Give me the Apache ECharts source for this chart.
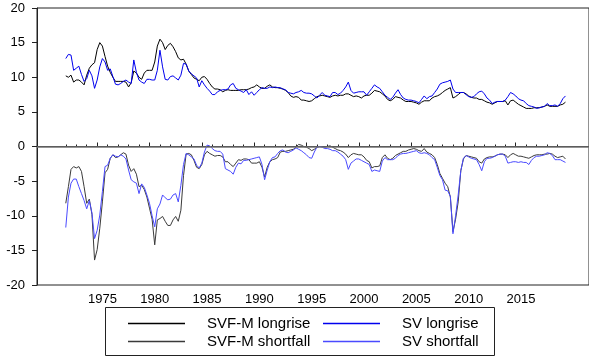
<!DOCTYPE html>
<html>
<head>
<meta charset="utf-8">
<script src="https://cdn.jsdelivr.net/npm/echarts@6/dist/echarts.min.js"></script>
<style>
  html, body { margin: 0; padding: 0; background: #fff; }
  #chart { width: 589px; height: 357px; }
</style>
</head>
<body>
<div id="chart"></div>
<script>
// Quarterly observations, 1972Q1 .. 2019Q4
const firstYear = 1972;
const lastYear = 2019;

// Axis runs a little wider than the sample
const axisStart = [1969, 2];
const axisEnd = [2022, 1];

const yTicks = [-20, -15, -10, -5, 0, 5, 10, 15, 20];
const labelYears = [1975, 1980, 1985, 1990, 1995, 2000, 2005, 2010, 2015];

const svfmLongrise = [
  10.2, 10.0, 10.3, 9.3, 9.6, 9.6, 9.3, 8.9, 10.3, 11.3,
  11.8, 12.1, 14.0, 15.0, 14.5, 13.0, 11.6, 10.7, 10.0, 9.4,
  9.4, 9.4, 9.4, 9.3, 8.6, 9.2, 10.9, 10.6, 10.0, 9.7,
  10.6, 11.0, 11.0, 11.0, 12.2, 14.5, 15.5, 15.0, 14.0, 14.6,
  14.9, 14.4, 13.7, 12.8, 12.5, 12.6, 11.9, 10.9, 10.4, 9.9,
  9.7, 9.5, 10.0, 10.1, 9.7, 9.1, 8.6, 8.3, 8.3, 8.2,
  7.9, 8.1, 8.2, 8.1, 8.1, 8.1, 8.1, 8.2, 8.2, 8.2,
  8.3, 8.5, 8.6, 8.9, 8.6, 8.4, 8.4, 8.7, 8.9, 8.6,
  8.5, 8.5, 8.4, 8.3, 8.1, 7.8, 7.3, 7.1, 7.2, 7.1,
  6.7, 6.7, 6.6, 6.5, 6.6, 6.9, 7.2, 7.3, 7.4, 7.3,
  7.2, 7.1, 7.3, 7.4, 7.3, 7.4, 7.4, 7.6, 7.6, 7.4,
  7.2, 7.3, 7.2, 7.0, 7.3, 7.4, 7.4, 7.7, 8.1, 8.0,
  7.9, 7.6, 7.3, 6.8, 6.6, 6.8, 7.2, 7.1, 7.0, 6.7,
  6.5, 6.5, 6.5, 6.4, 6.3, 6.1, 6.4, 6.6, 6.6, 6.6,
  7.0, 7.2, 7.3, 7.5, 7.8, 8.1, 8.3, 8.5, 7.0, 7.2,
  7.5, 7.8, 7.8, 7.6, 7.3, 7.1, 7.0, 7.0, 6.8, 6.8,
  6.6, 6.4, 6.3, 6.1, 6.3, 6.5, 6.5, 6.5, 6.6, 6.0,
  6.6, 6.7, 6.4, 6.1, 5.9, 5.7, 5.5, 5.5, 5.5, 5.6,
  5.6, 5.6, 5.7, 5.8, 6.0, 5.8, 5.8, 5.8, 5.8, 6.0,
  6.1, 6.4
];

const svLongrise = [
  12.7, 13.3, 13.2, 11.0, 11.3, 11.6, 10.4, 9.4, 9.8, 11.0,
  10.2, 8.4, 9.6, 11.5, 12.7, 12.2, 11.0, 11.2, 10.1, 9.0,
  8.9, 9.1, 9.4, 9.6, 9.3, 9.1, 12.5, 10.7, 9.6, 9.3,
  9.1, 9.7, 9.7, 9.6, 9.6, 11.0, 13.9, 11.5, 9.7, 9.6,
  10.1, 10.2, 9.9, 9.6, 10.3, 12.0, 11.9, 10.9, 10.5, 10.2,
  9.9, 8.6, 9.5, 8.9, 8.4, 8.0, 7.5, 7.5, 7.9, 8.1,
  8.2, 8.2, 8.3, 8.9, 9.1, 8.4, 8.2, 8.0, 7.8, 8.2,
  7.5, 7.9, 7.4, 7.8, 8.2, 8.5, 8.4, 8.4, 8.6, 8.5,
  8.6, 8.5, 8.5, 8.3, 8.2, 7.8, 7.7, 7.6, 7.8, 7.9,
  8.1, 7.8, 7.7, 7.7, 7.6, 7.3, 7.0, 7.4, 7.8, 7.4,
  7.3, 7.2, 7.8, 7.8, 7.5, 7.7, 8.1, 8.6, 9.3, 8.1,
  7.7, 7.8, 7.9, 7.9, 7.9, 7.4, 7.9, 8.4, 8.9, 8.6,
  8.4, 7.9, 7.4, 7.1, 6.8, 7.1, 7.7, 8.2, 7.5, 7.0,
  6.8, 6.7, 6.7, 6.6, 6.5, 6.3, 6.8, 7.3, 6.9, 7.2,
  7.3, 7.8, 8.3, 9.0, 9.2, 9.3, 9.4, 9.6, 8.3, 7.8,
  7.8, 7.8, 7.8, 7.5, 7.2, 7.1, 7.2, 7.6, 7.9, 8.0,
  7.6, 7.0, 6.7, 6.2, 6.4, 6.5, 6.5, 6.5, 6.7, 7.2,
  7.8, 7.6, 7.3, 6.9, 6.7, 6.6, 6.2, 5.9, 5.8, 5.7,
  5.5, 5.6, 5.7, 5.8, 6.2, 5.9, 5.9, 6.0, 5.8, 6.2,
  6.9, 7.3
];

const svfmShortfall = [
  -8.2, -5.8, -3.3, -2.9, -3.1, -2.9, -3.6, -5.8, -8.2, -7.6,
  -9.8, -16.4, -14.9, -11.8, -8.0, -3.8, -3.3, -1.7, -1.2, -1.6,
  -1.5, -1.2, -0.9, -1.1, -2.7, -3.6, -3.2, -4.0, -5.8, -5.6,
  -6.2, -7.3, -8.9, -10.5, -14.2, -10.6, -10.4, -10.1, -10.8, -11.4,
  -11.4, -10.6, -10.1, -10.8, -9.2, -4.2, -1.1, -1.0, -1.2, -2.0,
  -3.0, -3.2, -2.6, -1.2, -0.7, -1.0, -1.2, -1.4, -1.3, -1.3,
  -1.5, -2.2, -2.2, -2.6, -2.9, -2.4, -1.9, -2.0, -1.8, -1.8,
  -1.9, -2.4, -2.4, -2.4, -2.2, -3.0, -4.4, -3.0, -2.2, -1.9,
  -1.8, -1.6, -0.8, -0.7, -0.7, -0.6, -0.5, -0.4, -0.1, 0.3,
  0.2, 0.0, -0.1, -0.3, -0.6, -0.4, -0.1, 0.0, 0.0, -0.1,
  0.0, 0.1, -0.1, -0.3, -0.5, -0.6, -0.8, -1.1, -1.6, -1.2,
  -1.0, -1.1, -1.2, -1.2, -1.5, -2.0, -2.2, -3.1, -2.9, -2.9,
  -2.8, -1.6, -1.2, -1.7, -1.9, -1.7, -1.3, -1.1, -0.9, -0.7,
  -0.7, -0.5, -0.4, -0.3, -0.4, -0.6, -0.7, -0.3, -0.8, -1.0,
  -1.2, -1.6, -2.6, -3.9, -4.6, -5.3, -5.8, -7.3, -12.3, -10.5,
  -8.0, -3.5, -1.8, -1.3, -1.4, -1.5, -1.6, -1.7, -2.2, -2.4,
  -1.8, -1.6, -1.5, -1.5, -1.4, -1.2, -1.1, -1.1, -1.2, -1.6,
  -1.2, -1.0, -1.2, -1.4, -1.4, -1.5, -1.6, -1.7, -1.5, -1.3,
  -1.2, -1.2, -1.2, -1.1, -1.1, -1.0, -1.1, -1.4, -1.6, -1.5,
  -1.4, -1.8
];

const svShortfall = [
  -11.7, -7.3, -5.3, -4.7, -4.7, -5.8, -6.8, -7.8, -9.0, -7.8,
  -9.6, -13.3, -12.1, -9.9, -6.5, -2.9, -2.7, -1.7, -1.2, -1.4,
  -1.5, -1.2, -1.4, -1.8, -3.4, -4.8, -5.1, -5.3, -6.8, -5.4,
  -5.9, -7.0, -8.2, -10.0, -11.6, -9.0, -8.3, -7.0, -7.4, -7.7,
  -7.6, -7.0, -6.8, -8.0, -5.6, -2.6, -1.0, -1.2, -1.5, -1.8,
  -2.7, -3.1, -2.4, -0.8, 0.2, 0.1, -0.3, -0.6, -0.7, -0.7,
  -1.1, -3.2, -3.4, -3.6, -4.0, -3.0, -2.4, -2.5, -2.0, -2.0,
  -1.9, -1.8, -1.7, -1.6, -1.5, -2.6, -4.8, -3.4, -2.2, -1.6,
  -1.5, -1.0, -0.6, -0.5, -0.8, -0.9, -0.7, -0.5, -0.2, -0.4,
  -0.6, -0.9, -1.2, -1.6, -1.7, -0.8, -0.1, 0.0, -0.1, -0.3,
  -0.3, -0.4, -0.6, -0.6, -0.8, -1.1, -1.4, -1.9, -3.3, -2.4,
  -2.1, -1.8, -1.8, -2.0, -2.2, -2.4, -2.6, -3.6, -3.4, -3.5,
  -3.6, -2.1, -1.6, -1.9, -1.9, -1.9, -1.7, -1.3, -1.1, -1.0,
  -1.0, -0.9, -0.8, -0.7, -0.6, -0.9, -1.0, -0.9, -1.0, -1.2,
  -1.6, -1.9, -3.0, -4.2, -4.8, -6.3, -6.4, -7.2, -12.6, -10.0,
  -7.0, -3.5, -1.7, -1.3, -1.5, -1.7, -1.8, -1.9, -2.6, -3.5,
  -2.2, -1.7, -1.7, -1.6, -1.4, -1.2, -1.1, -1.1, -1.4, -2.4,
  -2.3, -2.2, -2.2, -2.3, -2.2, -2.3, -2.3, -2.6, -2.0, -1.6,
  -1.4, -1.4, -1.3, -1.2, -0.9, -1.0, -1.3, -1.9, -1.9, -1.9,
  -2.1, -2.3
];

const seriesNames = ['SVF-M longrise', 'SV longrise', 'SVF-M shortfall', 'SV shortfall'];
const seriesColors = ['#000000', '#0000ee', '#3a3a3a', '#4a4aff'];

// Quarter names along the axis, e.g. "1975Q1"
const quarters = [];
for (let y = axisStart[0], q = axisStart[1]; y < axisEnd[0] || (y === axisEnd[0] && q <= axisEnd[1]); ) {
  quarters.push(y + 'Q' + q);
  q++;
  if (q > 4) { q = 1; y++; }
}
const sampleQuarters = quarters.filter(function (s) {
  const y = +s.slice(0, 4);
  return y >= firstYear && y <= lastYear;
});

function pairUp(values) {
  return values.map(function (v, i) { return [sampleQuarters[i], v]; });
}
function yearOf(s) { return +s.slice(0, 4); }
function inSample(s) { const y = yearOf(s); return y >= firstYear && y <= lastYear; }

const FONT = '"Liberation Sans", Arial, Helvetica, sans-serif';

const chart = echarts.init(document.getElementById('chart'), null, { renderer: 'canvas' });

const gridBox = { left: 37, right: 0, top: 8, bottom: 72 };

const lineSeries = function (name, values, color) {
  return {
    name: name,
    type: 'line',
    xAxisIndex: 0,
    yAxisIndex: 0,
    data: pairUp(values),
    showSymbol: false,
    symbol: 'none',
    animation: false,
    lineStyle: { color: color, width: 1 },
    itemStyle: { color: color }
  };
};

const values = [svfmLongrise, svLongrise, svfmShortfall, svShortfall];
const series = seriesNames.map(function (n, i) { return lineSeries(n, values[i], seriesColors[i]); });
series[0].markLine = {
  silent: true,
  symbol: 'none',
  animation: false,
  label: { show: false },
  lineStyle: { color: '#707070', width: 1.5, type: 'solid' },
  data: [{ yAxis: 0 }]
};

function legendItem(idx, left, top) {
  return {
    data: [{
      name: seriesNames[idx],
      icon: 'rect',
      itemStyle: { color: seriesColors[idx], borderWidth: 0, opacity: 1 }
    }],
    left: left,
    top: top,
    orient: 'horizontal',
    itemWidth: 57,
    itemHeight: 1.3,
    padding: 0,
    selectedMode: false,
    textStyle: { fontFamily: FONT, fontSize: 15, color: '#000', padding: [0, 0, 0, 17] }
  };
}

chart.setOption({
  animation: false,
  backgroundColor: '#ffffff',
  grid: [
    Object.assign({ show: true, borderColor: '#222', borderWidth: 1, backgroundColor: 'transparent' }, gridBox),
    Object.assign({ show: false }, gridBox)
  ],
  xAxis: [
    {
      type: 'category',
      gridIndex: 0,
      data: quarters,
      boundaryGap: false,
      axisLine: { lineStyle: { color: '#222', width: 1 } },
      axisTick: {
        inside: true,
        length: 2,
        lineStyle: { color: '#222' },
        interval: function (i, v) { return inSample(v) && v.slice(4) === 'Q1'; }
      },
      axisLabel: {
        interval: function (i, v) {
          return v.slice(4) === 'Q3' && labelYears.indexOf(yearOf(v)) >= 0;
        },
        formatter: function (v) { return v.slice(0, 4); },
        fontFamily: FONT,
        fontSize: 13,
        color: '#000',
        margin: 8
      },
      splitLine: { show: false }
    },
    {
      // taller ticks at the start of every fifth year
      type: 'category',
      gridIndex: 1,
      data: quarters,
      boundaryGap: false,
      axisLine: { show: false },
      axisTick: {
        inside: true,
        length: 4,
        lineStyle: { color: '#222' },
        interval: function (i, v) {
          return inSample(v) && v.slice(4) === 'Q1' && yearOf(v) % 5 === 0;
        }
      },
      axisLabel: { show: false },
      splitLine: { show: false }
    }
  ],
  yAxis: [
    {
      type: 'value',
      gridIndex: 0,
      min: yTicks[0],
      max: yTicks[yTicks.length - 1],
      interval: 5,
      axisLine: { show: true, lineStyle: { color: '#222', width: 1 } },
      axisTick: { show: true, inside: false, length: 5, lineStyle: { color: '#222' } },
      axisLabel: { fontFamily: FONT, fontSize: 13, color: '#000', margin: 12 },
      splitLine: { show: false }
    },
    {
      type: 'value',
      gridIndex: 1,
      min: yTicks[0],
      max: yTicks[yTicks.length - 1],
      show: false
    }
  ],
  legend: [
    legendItem(0, 128, 316),
    legendItem(1, 323, 316),
    legendItem(2, 128, 334),
    legendItem(3, 323, 334)
  ],
  graphic: [
    {
      type: 'rect',
      shape: { x: 105.5, y: 307.5, width: 389, height: 48 },
      style: { fill: 'none', stroke: '#222', lineWidth: 1 },
      silent: true
    }
  ],
  series: series
});
</script>
</body>
</html>
